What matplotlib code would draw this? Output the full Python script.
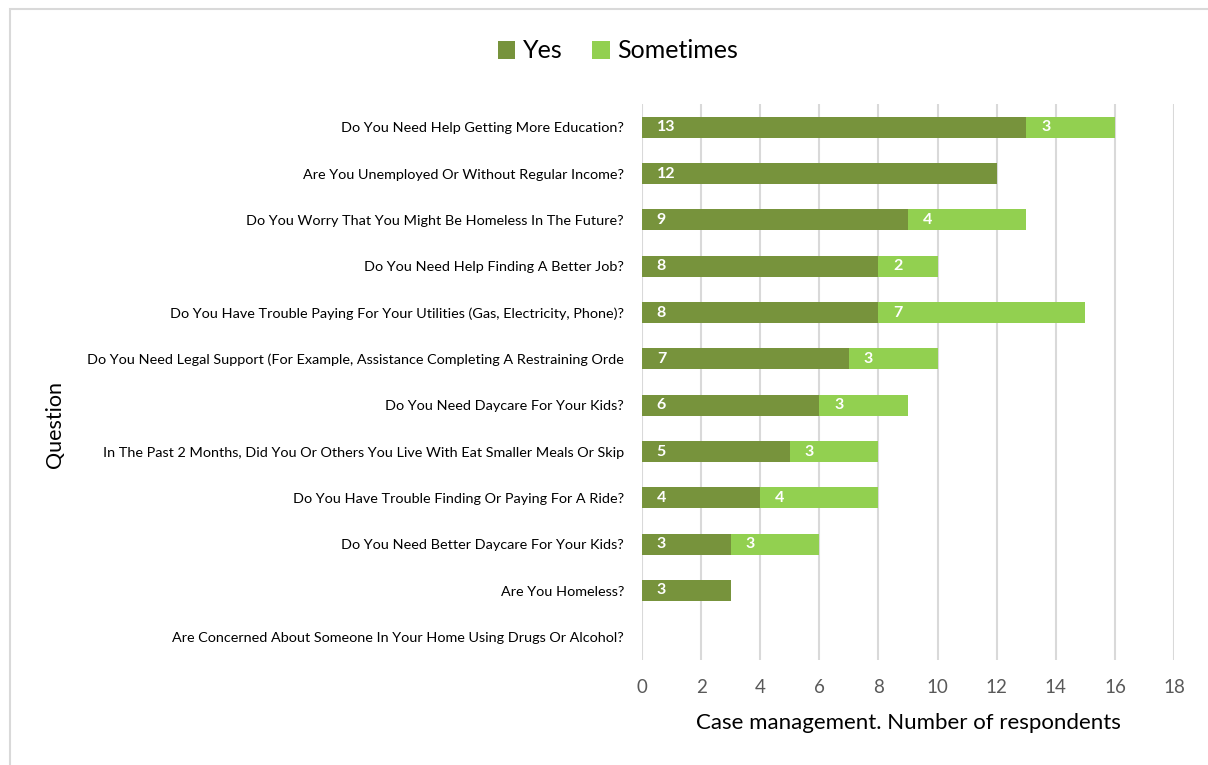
import matplotlib.pyplot as plt
import numpy as np
from matplotlib.patches import Rectangle

plt.rcParams['font.family'] = ['Lato', 'DejaVu Sans']

questions = [
    "Do You Need Help Getting More Education?",
    "Are You Unemployed Or Without Regular Income?",
    "Do You Worry That You Might Be Homeless In The Future?",
    "Do You Need Help Finding A Better Job?",
    "Do You Have Trouble Paying For Your Utilities (Gas, Electricity, Phone)?",
    "Do You Need Legal Support (For Example, Assistance Completing A Restraining Orde",
    "Do You Need Daycare For Your Kids?",
    "In The Past 2 Months, Did You Or Others You Live With Eat Smaller Meals Or Skip",
    "Do You Have Trouble Finding Or Paying For A Ride?",
    "Do You Need Better Daycare For Your Kids?",
    "Are You Homeless?",
    "Are Concerned About Someone In Your Home Using Drugs Or Alcohol?",
]
yes = [13, 12, 9, 8, 8, 7, 6, 5, 4, 3, 3, 0]
sometimes = [3, 0, 4, 2, 7, 3, 3, 3, 4, 3, 0, 0]

YES_COL = '#77933C'
SOME_COL = '#92D050'

fig = plt.figure(figsize=(12.08, 7.65), dpi=100)
ax = fig.add_axes([642 / 1208, 1 - 660 / 765, 532 / 1208, 556 / 765])

y = np.arange(len(questions))
h = 0.45
b1 = ax.barh(y, yes, height=h, color=YES_COL, label='Yes', zorder=3)
b2 = ax.barh(y, sometimes, left=yes, height=h, color=SOME_COL, label='Sometimes', zorder=3)

# value labels sit just inside the start of each segment
for i in range(len(questions)):
    if yes[i] > 0:
        ax.text(0.5, y[i], str(yes[i]), color='white', fontweight='bold',
                fontsize=11.5, va='center', ha='left', zorder=4)
    if sometimes[i] > 0:
        ax.text(yes[i] + 0.5, y[i], str(sometimes[i]), color='white', fontweight='bold',
                fontsize=11.5, va='center', ha='left', zorder=4)

ax.set_ylim(len(questions) - 0.5, -0.5)
ax.set_xlim(0, 18)
ax.set_xticks(range(0, 19, 2))
ax.set_yticks(y)
ax.set_yticklabels(questions, fontsize=10.4, color='#000000')
ax.tick_params(axis='x', colors='#595959', labelsize=13.5, length=0, pad=14)
ax.tick_params(axis='y', length=0, pad=13)
ax.grid(axis='x', color='#d9d9d9', linewidth=1.5, zorder=0)
for s in ax.spines.values():
    s.set_visible(False)

ax.set_xlabel('Case management. Number of respondents', fontsize=16, labelpad=12)
fig.text(55 / 1208, 1 - 425 / 765, 'Question', rotation=90, fontsize=15.5,
         ha='center', va='center')

leg = fig.legend(handles=[b1, b2], loc='center', bbox_to_anchor=(618 / 1208, 1 - 51 / 765),
                 ncol=2, frameon=False, fontsize=18, handlelength=0.7, handleheight=0.7,
                 handletextpad=0.3, columnspacing=1.2)

fig.patches.append(Rectangle((10 / 1208, -0.1), 1.2, 1 - 9 / 765 + 0.1,
                             transform=fig.transFigure, fill=False,
                             edgecolor='#d9d9d9', linewidth=1.5))

fig.savefig('out.png', dpi=100)
